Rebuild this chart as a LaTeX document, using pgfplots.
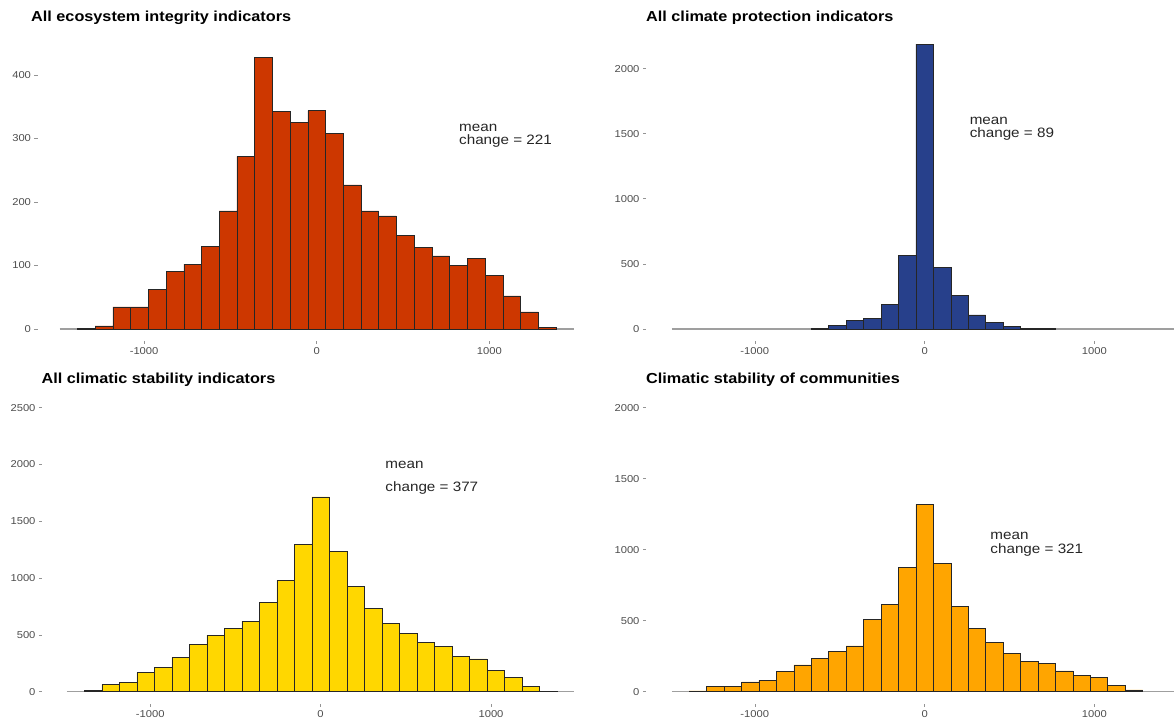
\documentclass[border=0pt]{standalone}
\usepackage{fontspec}
\setmainfont{Liberation Sans}[FakeStretch=1.12]
\usepackage{pgfplots}
\pgfplotsset{compat=1.18}

\definecolor{c1}{RGB}{205,55,0}
\definecolor{c2}{RGB}{39,64,139}
\definecolor{c3}{RGB}{255,215,0}
\definecolor{c4}{RGB}{255,165,0}
\definecolor{tickc}{RGB}{77,77,77}

\pgfplotsset{
 hist/.style={
  scale only axis, anchor=south west,
  axis x line*=bottom, axis y line*=left,
  axis line style={draw=none},
  tick align=outside, major tick length=3pt,
  tick style={draw=tickc!60, line width=0.6pt},
  xtick={-1000,0,1000}, xticklabels={-1000,0,1000},
  ticklabel style={font=\fontsize{10}{12}\selectfont, text=tickc},
  title style={font=\fontsize{14.5}{17}\selectfont\bfseries, anchor=base west, at={(rel axis cs:0,1)}, inner sep=0pt},
 },
 bars/.style={ybar, bar width=102.7, draw=black!85, line width=0.5pt},
 base/.style={draw=gray!75, line width=1.2pt},
}
\tikzset{ann/.style={anchor=base west, font=\fontsize{13.6}{15}\selectfont, text=black!85}}

\begin{document}
\begin{tikzpicture}
\path[use as bounding box] (0,0) rectangle (1174pt,722pt);

% Panel 1
\begin{axis}[hist, at={(37.5pt,381pt)}, width=558.4pt, height=306pt,
  xmin=-1617.6, xmax=1617.6, ymin=-18.9, ymax=463,
  ytick={0,100,200,300,400}, yticklabels={0,100,200,300,400},
  title={All ecosystem integrity indicators}, title style={xshift=-6.5pt, yshift=7pt}]
\addplot[base] coordinates {(-1489.2,0) (1489.2,0)};
\addplot[bars, fill=c1] coordinates {(-1335.1,1) (-1232.4,5) (-1129.7,35) (-1027,35) (-924.3,62) (-821.6,91) (-718.9,102) (-616.2,130) (-513.5,186) (-410.8,272) (-308.1,428) (-205.4,343) (-102.7,325) (0,344) (102.7,308) (205.4,227) (308.1,186) (410.8,178) (513.5,148) (616.2,129) (718.9,115) (821.6,100) (924.3,111) (1027,85) (1129.7,52) (1232.4,27) (1335.1,2)};
\node[ann] at (axis cs:805,311.5) {mean};
\node[ann] at (axis cs:805,291.3) {change = 221};
\end{axis}

% Panel 2
\begin{axis}[hist, at={(646pt,381pt)}, width=528pt, height=306pt,
  xmin=-1640.8, xmax=1468.8, ymin=-92, ymax=2258,
  ytick={0,500,1000,1500,2000}, yticklabels={0,500,1000,1500,2000},
  title={All climate protection indicators}, title style={xshift=0pt, yshift=7pt}]
\addplot[base] coordinates {(-1489.2,0) (1489.2,0)};
\addplot[bars, fill=c2] coordinates {(-616.2,5) (-513.5,30) (-410.8,69) (-308.1,79) (-205.4,190) (-102.7,566) (0,2187) (102.7,471) (205.4,261) (308.1,108) (410.8,51) (513.5,18) (616.2,5) (718.9,3)};
\node[ann] at (axis cs:245,1571) {mean};
\node[ann] at (axis cs:245,1471) {change = 89};
\end{axis}

% Panel 3
\begin{axis}[hist, at={(42pt,18.3pt)}, width=557.2pt, height=305.7pt,
  xmin=-1635, xmax=1635, ymin=-105.6, ymax=2585,
  ytick={0,500,1000,1500,2000,2500}, yticklabels={0,500,1000,1500,2000,2500},
  title={All climatic stability indicators}, title style={xshift=-0.6pt, yshift=8.4pt}]
\addplot[base] coordinates {(-1489.2,0) (1489.2,0)};
\addplot[bars, fill=c3] coordinates {(-1335.1,9) (-1232.4,65) (-1129.7,79) (-1027,167) (-924.3,217) (-821.6,299) (-718.9,417) (-616.2,499) (-513.5,560) (-410.8,622) (-308.1,789) (-205.4,980) (-102.7,1297) (0,1714) (102.7,1238) (205.4,927) (308.1,731) (410.8,604) (513.5,516) (616.2,437) (718.9,402) (821.6,311) (924.3,290) (1027,188) (1129.7,123) (1232.4,44) (1335.1,3)};
\node[ann] at (axis cs:360,1965) {mean};
\node[ann] at (axis cs:360,1765) {change = 377};
\end{axis}

% Panel 4
\begin{axis}[hist, at={(646pt,18.3pt)}, width=528pt, height=305.7pt,
  xmin=-1640.8, xmax=1468.8, ymin=-84.5, ymax=2068,
  ytick={0,500,1000,1500,2000}, yticklabels={0,500,1000,1500,2000},
  title={Climatic stability of communities}, title style={xshift=0pt, yshift=8.4pt}]
\addplot[base] coordinates {(-1489.2,0) (1489.2,0)};
\addplot[bars, fill=c4] coordinates {(-1335.1,5) (-1232.4,35) (-1129.7,35) (-1027,70) (-924.3,82) (-821.6,141) (-718.9,188) (-616.2,235) (-513.5,286) (-410.8,322) (-308.1,509) (-205.4,615) (-102.7,878) (0,1319) (102.7,904) (205.4,599) (308.1,446) (410.8,347) (513.5,270) (616.2,216) (718.9,200) (821.6,146) (924.3,117) (1027,99) (1129.7,42) (1232.4,12)};
\node[ann] at (axis cs:367,1074) {mean};
\node[ann] at (axis cs:367,973) {change = 321};
\end{axis}
\end{tikzpicture}
\end{document}
